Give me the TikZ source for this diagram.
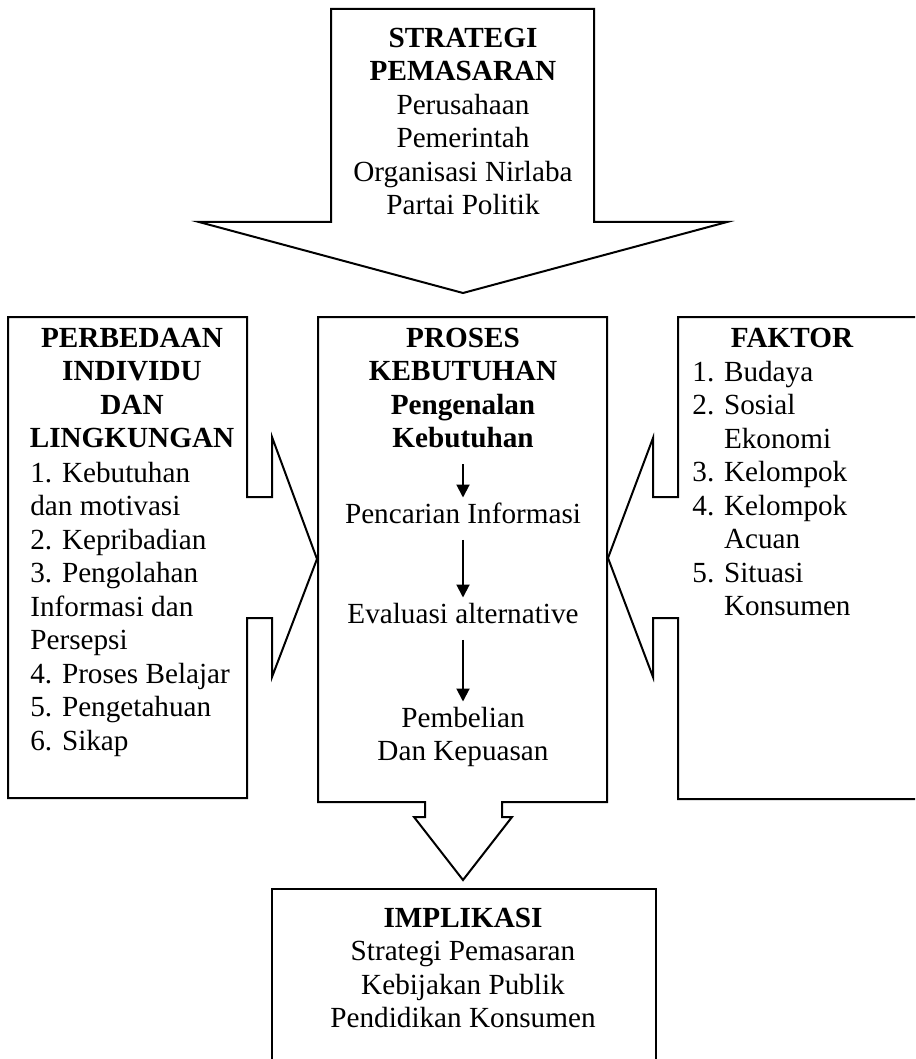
\documentclass[tikz,border=0pt]{standalone}
\usepackage{fontspec}
\setmainfont{Liberation Serif}
\usetikzlibrary{arrows.meta}
\begin{document}
\begin{tikzpicture}[x=0.5pt,y=-0.5pt,
    blockline/.style={line width=1pt,fill=white},
    txt/.style={inner sep=0pt,align=center,anchor=north,font=\fontsize{14.6}{16.75}\selectfont},
    head/.style={txt,font=\fontsize{14.6}{16.75}\selectfont\bfseries},
    lst/.style={txt,align=left,anchor=north west},
    flowarrow/.style={line width=1pt,shorten <=3pt,shorten >=1pt,-{Triangle[length=6.5pt,width=6.5pt]}}]
        \clip (0,0) rectangle (915,1059);
        % strategi pemasaran
        \draw [blockline] (331,9) -- (594,9) -- (594,222) -- (727,222) -- (463,293) -- (199,222) -- (331,222) -- cycle;
        \node [txt] (sp) at (463,23.5) {\strut\textbf{STRATEGI}\\\textbf{PEMASARAN}\\Perusahaan\\Pemerintah\\Organisasi Nirlaba\\Partai Politik};
        % proses kebutuhan
        \draw [blockline] (318,317) -- (607,317) -- (607,802) -- (502,802) -- (502,817) -- (512,817) -- (463,880) -- (414,817) -- (425,817) -- (425,802) -- (318,802) -- cycle;
        \node [head] (pk) at (463,323.5) {\strut PROSES\\KEBUTUHAN\\Pengenalan\\Kebutuhan\strut};
        \node [txt] (pc) at (463,499.5) {\strut Pencarian Informasi};
        \node [txt] (ev) at (463,599.5) {\strut Evaluasi alternative};
        \node [txt] (pb) at (463,703.5) {\strut Pembelian\\Dan Kepuasan};
        \draw [flowarrow] (pk) -- (pc);
        \draw [flowarrow] (pc) -- (ev);
        \draw [flowarrow] (ev) -- (pb);
        % perbedaan individu dan lingkungan
        \draw [blockline] (8,317) -- (247,317) -- (247,497) -- (272,497) -- (272,437) -- (317,559) -- (272,677) -- (272,618) -- (247,618) -- (247,798) -- (8,798) -- cycle;
        \node [head] (pi) at (132,323.5) {\strut PERBEDAAN\\INDIVIDU\\DAN\\LINGKUNGAN};
        \node [lst] (pil) at (30,458.5) {\strut 1. Kebutuhan\\dan motivasi\\2. Kepribadian\\3. Pengolahan\\Informasi dan\\Persepsi\\4. Proses Belajar\\5. Pengetahuan\\6. Sikap};
        % faktor
        \draw [blockline] (678,317) -- (925,317) -- (925,799) -- (678,799) -- (678,618) -- (653,618) -- (653,677) -- (608,558) -- (653,438) -- (653,497) -- (678,497) -- cycle;
        \node [head] (fk) at (792,323.5) {\strut FAKTOR};
        \node [lst] (fkl) at (692,357.5) {\strut 1. Budaya\\2. Sosial\\\hphantom{2. }Ekonomi\\3. Kelompok\\4. Kelompok\\\hphantom{4. }Acuan\\5. Situasi\\\hphantom{5. }Konsumen};
        % implikasi
        \draw [blockline] (272,889) rectangle (656,1075);
        \node [txt] (imp) at (463,903.5) {\strut\textbf{IMPLIKASI}\\Strategi Pemasaran\\Kebijakan Publik\\Pendidikan Konsumen};
    \end{tikzpicture}
\end{document}
